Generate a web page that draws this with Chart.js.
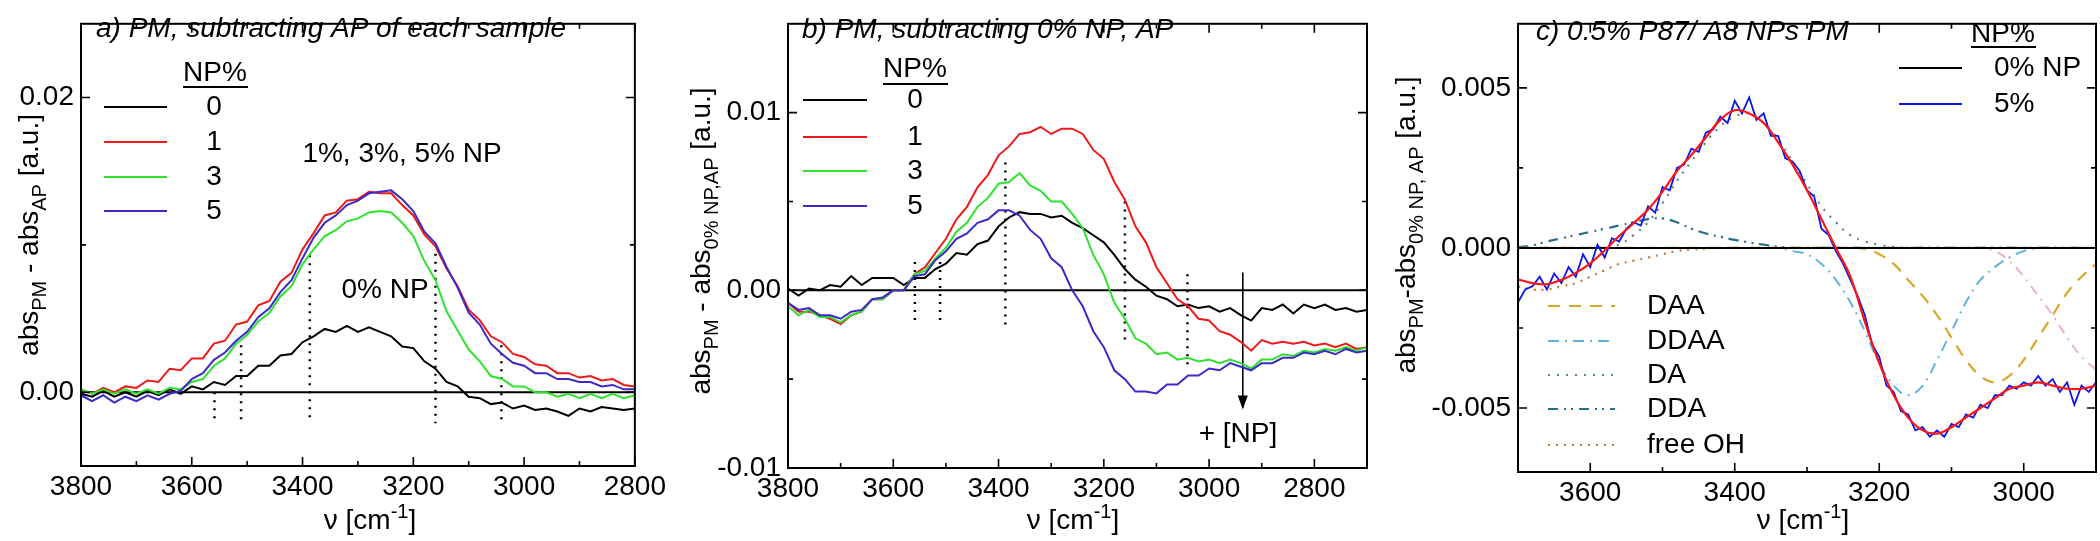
<!DOCTYPE html>
<html>
<head>
<meta charset="utf-8">
<script src="https://cdn.jsdelivr.net/npm/chart.js@4.4.0/dist/chart.umd.min.js"></script>
<style>
  body { margin: 0; background: #fff; width: 2100px; height: 541px; overflow: hidden; position: relative; }
  canvas { position: absolute; top: 0; }
</style>
</head>
<body>
<canvas id="chartA" width="670" height="541" style="left:0px"></canvas>
<canvas id="chartB" width="715" height="541" style="left:670px"></canvas>
<canvas id="chartC" width="715" height="541" style="left:1385px"></canvas>
<script>
"use strict";

//--------------------DATA

// a) PM, subtracting AP of each sample
const waveA = [3800, 3780, 3760, 3740, 3720, 3700, 3680, 3660, 3640, 3620, 3600, 3580, 3560, 3540, 3520, 3500, 3480, 3460, 3440, 3420, 3400, 3380, 3360, 3340, 3320, 3300, 3280, 3260, 3240, 3220, 3200, 3180, 3160, 3140, 3120, 3100, 3080, 3060, 3040, 3020, 3000, 2980, 2960, 2940, 2920, 2900, 2880, 2860, 2840, 2820, 2800];
const np0A = [-0.0001, -0.0003, 0.0001, -0.0003, 0.0000, -0.0003, 0.0001, -0.0002, 0.0002, -0.0001, 0.0004, 0.0002, 0.0007, 0.0005, 0.0011, 0.0011, 0.0018, 0.0018, 0.0025, 0.0026, 0.0034, 0.0038, 0.0043, 0.0041, 0.0045, 0.0041, 0.0044, 0.0041, 0.0038, 0.0031, 0.0030, 0.0021, 0.0016, 0.0007, 0.0004, -0.0003, -0.0004, -0.0008, -0.0007, -0.0011, -0.0009, -0.0012, -0.0011, -0.0013, -0.0016, -0.0011, -0.0013, -0.0010, -0.0011, -0.0012, -0.0011];
const np1A = [0.0002, -0.0001, 0.0003, 0.0000, 0.0004, 0.0003, 0.0008, 0.0007, 0.0016, 0.0015, 0.0023, 0.0023, 0.0033, 0.0035, 0.0046, 0.0048, 0.0059, 0.0062, 0.0075, 0.0081, 0.0097, 0.0108, 0.0120, 0.0122, 0.0130, 0.0131, 0.0136, 0.0135, 0.0135, 0.0127, 0.0120, 0.0107, 0.0099, 0.0084, 0.0072, 0.0056, 0.0049, 0.0038, 0.0034, 0.0026, 0.0024, 0.0019, 0.0018, 0.0013, 0.0013, 0.0010, 0.0011, 0.0008, 0.0009, 0.0005, 0.0004];
const np3A = [0.0002, -0.0001, 0.0002, -0.0001, 0.0002, -0.0001, 0.0002, -0.0001, 0.0003, 0.0002, 0.0007, 0.0009, 0.0018, 0.0023, 0.0033, 0.0039, 0.0048, 0.0054, 0.0065, 0.0072, 0.0087, 0.0097, 0.0106, 0.0110, 0.0116, 0.0118, 0.0122, 0.0123, 0.0122, 0.0115, 0.0106, 0.0089, 0.0076, 0.0055, 0.0042, 0.0029, 0.0021, 0.0011, 0.0009, 0.0004, 0.0004, 0.0000, 0.0000, -0.0003, -0.0001, -0.0004, -0.0001, -0.0004, -0.0001, -0.0004, -0.0002];
const np5A = [-0.0002, -0.0006, -0.0002, -0.0007, -0.0003, -0.0006, -0.0002, -0.0005, -0.0001, 0.0001, 0.0009, 0.0013, 0.0022, 0.0027, 0.0035, 0.0041, 0.0051, 0.0057, 0.0068, 0.0076, 0.0091, 0.0105, 0.0115, 0.0120, 0.0127, 0.0130, 0.0135, 0.0136, 0.0137, 0.0131, 0.0123, 0.0109, 0.0101, 0.0085, 0.0071, 0.0054, 0.0046, 0.0033, 0.0026, 0.0020, 0.0018, 0.0013, 0.0013, 0.0009, 0.0009, 0.0007, 0.0007, 0.0004, 0.0005, 0.0002, 0.0002];
const markWaveA = [3559, 3511, 3387, 3160, 3041];
const markTopA = [0.0000, 0.0032, 0.0093, 0.0094, 0.0032];
const markBottomA = [-0.0021, -0.0021, -0.0021, -0.0021, -0.0021];
const xLabelsA = [3800, 3600, 3400, 3200, 3000, 2800];
const xMinorA = [3700, 3500, 3300, 3100, 2900];
const yLabelsA = [0, 0.02];
const yMinorA = [0.01];

// b) PM, subtracting 0% NP, AP
const waveB = [3800, 3780, 3760, 3740, 3720, 3700, 3680, 3660, 3640, 3620, 3600, 3580, 3560, 3540, 3520, 3500, 3480, 3460, 3440, 3420, 3400, 3380, 3360, 3340, 3320, 3300, 3280, 3260, 3240, 3220, 3200, 3180, 3160, 3140, 3120, 3100, 3080, 3060, 3040, 3020, 3000, 2980, 2960, 2940, 2920, 2900, 2880, 2860, 2840, 2820, 2800, 2780, 2760, 2740, 2720, 2700];
const np0B = [0.0001, -0.0003, 0.0001, 0.0000, 0.0003, 0.0002, 0.0008, 0.0003, 0.0007, 0.0007, 0.0007, 0.0003, 0.0007, 0.0007, 0.0012, 0.0015, 0.0021, 0.0020, 0.0026, 0.0028, 0.0036, 0.0041, 0.0044, 0.0043, 0.0043, 0.0041, 0.0042, 0.0038, 0.0035, 0.0031, 0.0027, 0.0020, 0.0012, 0.0006, 0.0002, -0.0003, -0.0005, -0.0009, -0.0008, -0.0010, -0.0009, -0.0012, -0.0010, -0.0014, -0.0017, -0.0010, -0.0011, -0.0008, -0.0013, -0.0008, -0.0010, -0.0008, -0.0011, -0.0010, -0.0012, -0.0011];
const np1B = [-0.0007, -0.0012, -0.0012, -0.0014, -0.0016, -0.0019, -0.0014, -0.0012, -0.0005, -0.0005, 0.0000, 0.0000, 0.0009, 0.0013, 0.0021, 0.0029, 0.0040, 0.0047, 0.0058, 0.0065, 0.0076, 0.0081, 0.0088, 0.0089, 0.0092, 0.0088, 0.0091, 0.0091, 0.0088, 0.0079, 0.0074, 0.0061, 0.0051, 0.0036, 0.0027, 0.0013, 0.0004, -0.0005, -0.0009, -0.0016, -0.0017, -0.0023, -0.0025, -0.0029, -0.0034, -0.0028, -0.0030, -0.0029, -0.0030, -0.0029, -0.0031, -0.0030, -0.0032, -0.0030, -0.0033, -0.0032];
const np3B = [-0.0009, -0.0014, -0.0011, -0.0015, -0.0015, -0.0018, -0.0014, -0.0012, -0.0005, -0.0005, 0.0000, 0.0000, 0.0009, 0.0011, 0.0018, 0.0024, 0.0033, 0.0038, 0.0047, 0.0052, 0.0060, 0.0061, 0.0066, 0.0059, 0.0056, 0.0050, 0.0050, 0.0043, 0.0035, 0.0020, 0.0009, -0.0007, -0.0016, -0.0027, -0.0030, -0.0036, -0.0035, -0.0039, -0.0038, -0.0040, -0.0039, -0.0041, -0.0039, -0.0041, -0.0044, -0.0039, -0.0039, -0.0036, -0.0037, -0.0034, -0.0035, -0.0033, -0.0034, -0.0032, -0.0034, -0.0032];
const np5B = [-0.0007, -0.0011, -0.0010, -0.0014, -0.0014, -0.0016, -0.0012, -0.0011, -0.0005, -0.0004, 0.0000, 0.0000, 0.0008, 0.0009, 0.0017, 0.0022, 0.0029, 0.0032, 0.0038, 0.0040, 0.0045, 0.0045, 0.0042, 0.0034, 0.0029, 0.0018, 0.0013, 0.0000, -0.0009, -0.0023, -0.0032, -0.0045, -0.0050, -0.0057, -0.0057, -0.0058, -0.0053, -0.0053, -0.0048, -0.0048, -0.0044, -0.0045, -0.0041, -0.0043, -0.0045, -0.0041, -0.0041, -0.0038, -0.0038, -0.0035, -0.0036, -0.0034, -0.0036, -0.0033, -0.0035, -0.0034];
const markWaveB = [3559, 3511, 3387, 3160, 3041];
const markTopB = [0.0016, 0.0016, 0.0072, 0.0050, 0.0009];
const markBottomB = [-0.0020, -0.0020, -0.0020, -0.0031, -0.0044];
const arrowWaveB = 2936;
const arrowTopB = 0.0010;
const arrowTipB = -0.0066;
const xLabelsB = [3800, 3600, 3400, 3200, 3000, 2800];
const xMinorB = [3700, 3500, 3300, 3100, 2900];
const yLabelsB = [-0.01, 0, 0.01];
const yMinorB = [-0.005, 0.005];

// c) 0.5% P87/ A8 NPs PM, 5% NP spectrum (10 cm-1 steps)
const waveC = [3700, 3690, 3680, 3670, 3660, 3650, 3640, 3630, 3620, 3610, 3600, 3590, 3580, 3570, 3560, 3550, 3540, 3530, 3520, 3510, 3500, 3490, 3480, 3470, 3460, 3450, 3440, 3430, 3420, 3410, 3400, 3390, 3380, 3370, 3360, 3350, 3340, 3330, 3320, 3310, 3300, 3290, 3280, 3270, 3260, 3250, 3240, 3230, 3220, 3210, 3200, 3190, 3180, 3170, 3160, 3150, 3140, 3130, 3120, 3110, 3100, 3090, 3080, 3070, 3060, 3050, 3040, 3030, 3020, 3010, 3000, 2990, 2980, 2970, 2960, 2950, 2940, 2930, 2920, 2910, 2900];
const np5C = [-0.0017, -0.0013, -0.0012, -0.0009, -0.0013, -0.0008, -0.0011, -0.0006, -0.0009, -0.0002, -0.0006, 0.0001, -0.0003, 0.0003, 0.0002, 0.0006, 0.0008, 0.0007, 0.0013, 0.0011, 0.0019, 0.0018, 0.0025, 0.0026, 0.0031, 0.0030, 0.0036, 0.0037, 0.0041, 0.0039, 0.0046, 0.0042, 0.0047, 0.0040, 0.0042, 0.0035, 0.0035, 0.0028, 0.0027, 0.0024, 0.0018, 0.0016, 0.0006, 0.0004, -0.0001, -0.0005, -0.0010, -0.0015, -0.0021, -0.0030, -0.0034, -0.0043, -0.0045, -0.0051, -0.0052, -0.0057, -0.0056, -0.0059, -0.0057, -0.0059, -0.0055, -0.0056, -0.0052, -0.0053, -0.0049, -0.0050, -0.0046, -0.0046, -0.0043, -0.0044, -0.0042, -0.0043, -0.0040, -0.0043, -0.0041, -0.0045, -0.0042, -0.0049, -0.0043, -0.0045, -0.0042];

// c) fit and its components (20 cm-1 steps)
const waveFitC = [3700, 3680, 3660, 3640, 3620, 3600, 3580, 3560, 3540, 3520, 3500, 3480, 3460, 3440, 3420, 3400, 3380, 3360, 3340, 3320, 3300, 3280, 3260, 3240, 3220, 3200, 3180, 3160, 3140, 3120, 3100, 3080, 3060, 3040, 3020, 3000, 2980, 2960, 2940, 2920, 2900];
const fitC = [-0.00098, -0.0011, -0.00113, -0.0010, -0.00078, -0.00048, -0.00008, 0.00037, 0.00077, 0.0012, 0.00176, 0.0024, 0.0029, 0.00345, 0.0040, 0.0043, 0.0042, 0.0039, 0.0033, 0.0026, 0.0018, 0.0009, 0.0000, -0.0009, -0.0023, -0.0036, -0.0046, -0.0053, -0.0057, -0.0058, -0.0056, -0.0053, -0.0050, -0.0047, -0.0044, -0.0043, -0.0042, -0.0043, -0.0044, -0.0044, -0.0043];
const np0C = [0, 0, 0, 0, 0, 0, 0, 0, 0, 0, 0, 0, 0, 0, 0, 0, 0, 0, 0, 0, 0, 0, 0, 0, 0, 0, 0, 0, 0, 0, 0, 0, 0, 0, 0, 0, 0, 0, 0, 0, 0];
const daaC = [0, 0, 0, 0, 0, 0, 0, 0, 0, 0, 0, 0, 0, 0, 0, 0, 0, 0, 0, 0, 0, 0, 0, 0, -0.00003, -0.0002, -0.0005, -0.0010, -0.0015, -0.0021, -0.0028, -0.0035, -0.0040, -0.0042, -0.0040, -0.0035, -0.0028, -0.0021, -0.0014, -0.0009, -0.0005];
const ddaaC = [0, 0, 0, 0, 0, 0, 0, 0, 0, 0, 0, 0, 0, 0, 0, 0, 0, 0, 0, -0.0001, -0.0002, -0.0005, -0.0010, -0.0017, -0.0026, -0.0036, -0.0043, -0.0046, -0.0043, -0.0035, -0.0026, -0.0017, -0.0010, -0.0006, -0.0003, -0.0001, 0, 0, 0, 0, 0];
const daC = [0, 0, 0, 0, 0, 0, 0.00003, 0.0001, 0.0004, 0.0008, 0.0014, 0.0021, 0.0027, 0.0033, 0.0038, 0.0041, 0.0042, 0.0039, 0.0034, 0.0027, 0.0020, 0.0013, 0.0008, 0.0004, 0.0002, 0.0001, 0.00003, 0, 0, 0, 0, 0, 0, 0, 0, 0, 0, 0, 0, 0, 0];
const ddaC = [0.00002, 0.00008, 0.0002, 0.0003, 0.0004, 0.0005, 0.0006, 0.0007, 0.0008, 0.0009, 0.00092, 0.0008, 0.0006, 0.00045, 0.00035, 0.00025, 0.00017, 0.0001, 0.00004, 0, 0, 0, 0, 0, 0, 0, 0, 0, 0, 0, 0, 0, 0, 0, 0, 0, 0, 0, 0, 0, 0];
const freeOhC = [-0.0012, -0.0013, -0.0013, -0.0012, -0.0011, -0.0009, -0.0007, -0.0005, -0.0004, -0.0003, -0.0002, -0.0001, -0.00005, -0.00002, 0, 0, 0, 0, 0, 0, 0, 0, 0, 0, 0, 0, 0, 0, 0, 0, 0, 0, 0, 0, 0, 0, 0, 0, 0, 0, 0];
const extraC = [0, 0, 0, 0, 0, 0, 0, 0, 0, 0, 0, 0, 0, 0, 0, 0, 0, 0, 0, 0, 0, 0, 0, 0, 0, 0, 0, 0, 0, 0, 0, 0, 0, -0.0001, -0.0004, -0.0009, -0.0015, -0.0021, -0.0028, -0.0034, -0.0038];
const xLabelsC = [3600, 3400, 3200, 3000];
const xMinorC = [3700, 3500, 3300, 3100, 2900];
const yLabelsC = [-0.005, 0, 0.005];
const yMinorC = [-0.0025, 0.0025];

//--------------------STYLE

const FONT = '"Liberation Sans", Arial, Helvetica, sans-serif';
const SIZE = 28;
const INK = "#000000";
const RED = "#ee1a1a";
const GREEN = "#2ee22e";
const VIOLET = "#3c2ac8";
const BLUE = "#0c16e8";
const FIT_RED = "#ff1414";
const DAA_COL = "#d8a82a";
const DDAA_COL = "#62b2da";
const DA_COL = "#5a8c7c";
const DDA_COL = "#2a6c8c";
const FREEOH_COL = "#c07c36";
const EXTRA_COL = "#e8b4c4";

//--------------------HELPERS

function pts(xs, ys) {
  return xs.map((x, i) => ({ x: x, y: ys[i] }));
}

function line(data, color, width, dash, tension) {
  return {
    data: data,
    borderColor: color,
    borderWidth: width,
    borderDash: dash || [],
    pointRadius: 0,
    tension: tension || 0,
    fill: false,
  };
}

function markers(waves, tops, bottoms) {
  return waves.map((w, i) => line([{ x: w, y: tops[i] }, { x: w, y: bottoms[i] }], INK, 2.5, [2, 6]));
}

function text(ctx, s, x, y, align, italic) {
  ctx.font = (italic ? "italic " : "") + SIZE + "px " + FONT;
  ctx.textAlign = align || "left";
  ctx.textBaseline = "middle";
  ctx.fillStyle = INK;
  ctx.fillText(s, x, y);
}

// parts: [text, "sub" | "sup" | ""]
function richText(ctx, parts, cx, cy, rotate) {
  const small = Math.round(SIZE * 0.7);
  ctx.save();
  ctx.translate(cx, cy);
  if (rotate) ctx.rotate(-Math.PI / 2);
  let total = 0;
  const widths = parts.map((p) => {
    ctx.font = (p[1] ? small : SIZE) + "px " + FONT;
    const w = ctx.measureText(p[0]).width;
    total += w;
    return w;
  });
  let x = -total / 2;
  ctx.textAlign = "left";
  ctx.textBaseline = "alphabetic";
  ctx.fillStyle = INK;
  parts.forEach((p, i) => {
    ctx.font = (p[1] ? small : SIZE) + "px " + FONT;
    let dy = 0;
    if (p[1] === "sub") dy = SIZE * 0.28;
    if (p[1] === "sup") dy = -SIZE * 0.4;
    ctx.fillText(p[0], x, SIZE * 0.36 + dy);
    x += widths[i];
  });
  ctx.restore();
}

function legendLine(ctx, x1, x2, y, color, width, dash) {
  ctx.save();
  ctx.strokeStyle = color;
  ctx.lineWidth = width;
  ctx.setLineDash(dash || []);
  ctx.beginPath();
  ctx.moveTo(x1, y);
  ctx.lineTo(x2, y);
  ctx.stroke();
  ctx.restore();
}

function underlined(ctx, s, cx, cy, x1, x2, uy) {
  text(ctx, s, cx, cy, "center");
  legendLine(ctx, x1, x2, uy, INK, 2);
}

// frame with inward ticks on all four sides
function frame(chart, xMajor, xMinor, yMajor, yMinor) {
  const ctx = chart.ctx;
  const a = chart.chartArea;
  const sx = chart.scales.x;
  const sy = chart.scales.y;
  ctx.save();
  ctx.strokeStyle = INK;
  ctx.lineWidth = 1.6;
  ctx.beginPath();
  const xt = (vals, len) => vals.forEach((v) => {
    const p = sx.getPixelForValue(v);
    ctx.moveTo(p, a.bottom); ctx.lineTo(p, a.bottom - len);
    ctx.moveTo(p, a.top); ctx.lineTo(p, a.top + len);
  });
  const yt = (vals, len) => vals.forEach((v) => {
    const p = sy.getPixelForValue(v);
    ctx.moveTo(a.left, p); ctx.lineTo(a.left + len, p);
    ctx.moveTo(a.right, p); ctx.lineTo(a.right - len, p);
  });
  xt(xMajor, 9); xt(xMinor, 5); yt(yMajor, 9); yt(yMinor, 5);
  ctx.stroke();
  ctx.lineWidth = 2;
  ctx.strokeRect(a.left, a.top, a.right - a.left, a.bottom - a.top);
  ctx.restore();
}

function xTitle(ctx, cx, cy) {
  richText(ctx, [["\u03bd [cm", ""], ["-1", "sup"], ["]", ""]], cx, cy, false);
}

function makeChart(id, o) {
  return new Chart(document.getElementById(id), {
    type: "line",
    data: { datasets: o.datasets },
    options: {
      responsive: false,
      animation: false,
      events: [],
      layout: { padding: { top: 3, right: o.padRight, left: 0, bottom: 0 } },
      plugins: { legend: { display: false }, tooltip: { enabled: false } },
      scales: {
        x: {
          type: "linear",
          reverse: true,
          min: o.xMin,
          max: o.xMax,
          grid: { display: false, drawTicks: false },
          border: { display: false },
          afterBuildTicks: (s) => { s.ticks = o.xLabels.map((v) => ({ value: v })); },
          afterFit: (s) => { s.height = o.xAxisH; },
          ticks: { autoSkip: false, maxRotation: 0, padding: 4, color: INK, font: { family: FONT, size: SIZE }, callback: (v) => String(v) },
        },
        y: {
          type: "linear",
          min: o.yMin,
          max: o.yMax,
          grid: { display: false, drawTicks: false },
          border: { display: false },
          afterBuildTicks: (s) => { s.ticks = o.yLabels.map((v) => ({ value: v })); },
          afterFit: (s) => { s.width = o.yAxisW; },
          ticks: { autoSkip: false, padding: 7, color: INK, font: { family: FONT, size: SIZE }, callback: (v) => v.toFixed(o.yDigits) },
        },
      },
    },
    plugins: [{ id: id + "Decor", afterDatasetsDraw: o.decor }],
  });
}

//--------------------PANEL A

makeChart("chartA", {
  xMin: 2800, xMax: 3800, yMin: -0.005, yMax: 0.025, yDigits: 2,
  xLabels: xLabelsA, yLabels: yLabelsA, padRight: 10, xAxisH: 75, yAxisW: 81,
  datasets: [
    line(pts(waveA, np5A), VIOLET, 2),
    line(pts(waveA, np3A), GREEN, 2),
    line(pts(waveA, np1A), RED, 2),
    line(pts(waveA, np0A), INK, 2),
    line(pts([3800, 2800], [0, 0]), INK, 2),
  ].concat(markers(markWaveA, markTopA, markBottomA)),
  decor: (chart) => {
    const ctx = chart.ctx;
    frame(chart, xLabelsA, xMinorA, yLabelsA, yMinorA);
    text(ctx, "a) PM, subtracting AP of each sample", 96, 29, "left", true);
    underlined(ctx, "NP%", 215, 73, 183, 248, 87);
    const ys = [107, 142, 177, 211];
    const cols = [INK, RED, GREEN, VIOLET];
    ["0", "1", "3", "5"].forEach((s, i) => {
      legendLine(ctx, 104, 167, ys[i], cols[i], 2.2);
      text(ctx, s, 214, ys[i], "center");
    });
    text(ctx, "1%, 3%, 5% NP", 402, 154, "center");
    text(ctx, "0% NP", 385, 290, "center");
    richText(ctx, [["abs", ""], ["PM", "sub"], [" - abs", ""], ["AP", "sub"], [" [a.u.]", ""]], 28, 235, true);
    xTitle(ctx, 370, 519);
  },
});

//--------------------PANEL B

makeChart("chartB", {
  xMin: 2700, xMax: 3800, yMin: -0.01, yMax: 0.015, yDigits: 2,
  xLabels: xLabelsB, yLabels: yLabelsB, padRight: 18, xAxisH: 73, yAxisW: 118,
  datasets: [
    line(pts(waveB, np5B), VIOLET, 2),
    line(pts(waveB, np3B), GREEN, 2),
    line(pts(waveB, np1B), RED, 2),
    line(pts(waveB, np0B), INK, 2),
    line(pts([3800, 2700], [0, 0]), INK, 2),
    line([{ x: arrowWaveB, y: arrowTopB }, { x: arrowWaveB, y: arrowTipB }], INK, 1.6),
  ].concat(markers(markWaveB, markTopB, markBottomB)),
  decor: (chart) => {
    const ctx = chart.ctx;
    const ax = chart.scales.x.getPixelForValue(arrowWaveB);
    const ay = chart.scales.y.getPixelForValue(arrowTipB);
    ctx.save();
    ctx.fillStyle = INK;
    ctx.beginPath();
    ctx.moveTo(ax, ay + 2);
    ctx.lineTo(ax - 5, ay - 12);
    ctx.lineTo(ax + 5, ay - 12);
    ctx.closePath();
    ctx.fill();
    ctx.restore();
    frame(chart, xLabelsB, xMinorB, yLabelsB, yMinorB);
    text(ctx, "b) PM, subtracting 0% NP, AP", 132, 30, "left", true);
    underlined(ctx, "NP%", 245, 69, 213, 278, 84);
    const ys = [100, 137, 171, 206];
    const cols = [INK, RED, GREEN, VIOLET];
    ["0", "1", "3", "5"].forEach((s, i) => {
      legendLine(ctx, 133, 197, ys[i], cols[i], 2.2);
      text(ctx, s, 245, ys[i], "center");
    });
    text(ctx, "+ [NP]", 568, 434, "center");
    richText(ctx, [["abs", ""], ["PM", "sub"], [" - abs", ""], ["0% NP,AP", "sub"], [" [a.u.]", ""]], 30, 241, true);
    xTitle(ctx, 403, 519);
  },
});

//--------------------PANEL C

makeChart("chartC", {
  xMin: 2900, xMax: 3700, yMin: -0.007, yMax: 0.007, yDigits: 3,
  xLabels: xLabelsC, yLabels: yLabelsC, padRight: 4, xAxisH: 69, yAxisW: 133,
  datasets: [
    line(pts(waveFitC, fitC), FIT_RED, 2.2, [], 0.4),
    line(pts(waveC, np5C), BLUE, 1.8),
    line(pts(waveFitC, np0C), INK, 2),
    line(pts(waveFitC, extraC), EXTRA_COL, 2, [10, 6, 2, 6], 0.4),
    line(pts(waveFitC, daaC), DAA_COL, 2.2, [12, 9], 0.4),
    line(pts(waveFitC, ddaaC), DDAA_COL, 2, [11, 6, 2, 6], 0.4),
    line(pts(waveFitC, daC), DA_COL, 2.2, [2, 7], 0.4),
    line(pts(waveFitC, ddaC), DDA_COL, 2.2, [10, 6, 2, 5, 2, 6], 0.4),
    line(pts(waveFitC, freeOhC), FREEOH_COL, 2.2, [2, 6], 0.4),
  ],
  decor: (chart) => {
    const ctx = chart.ctx;
    frame(chart, xLabelsC, xMinorC, yLabelsC, yMinorC);
    text(ctx, "c) 0.5% P87/ A8 NPs PM", 151, 32, "left", true);
    underlined(ctx, "NP%", 618, 34, 586, 651, 47);
    legendLine(ctx, 514, 577, 68, INK, 2.2);
    text(ctx, "0% NP", 609, 68, "left");
    legendLine(ctx, 514, 577, 104, BLUE, 2.2);
    text(ctx, "5%", 609, 104, "left");
    const names = ["DAA", "DDAA", "DA", "DDA", "free OH"];
    const cols = [DAA_COL, DDAA_COL, DA_COL, DDA_COL, FREEOH_COL];
    const dashes = [[12, 9], [11, 6, 2, 6], [2, 7], [10, 6, 2, 5, 2, 6], [2, 6]];
    const ys = [306, 341, 375, 409, 445];
    names.forEach((s, i) => {
      legendLine(ctx, 163, 230, ys[i], cols[i], 2.2, dashes[i]);
      text(ctx, s, 262, ys[i], "left");
    });
    richText(ctx, [["abs", ""], ["PM", "sub"], ["-abs", ""], ["0% NP, AP", "sub"], [" [a.u.]", ""]], 20, 225, true);
    xTitle(ctx, 418, 519);
  },
});
</script>
</body>
</html>
